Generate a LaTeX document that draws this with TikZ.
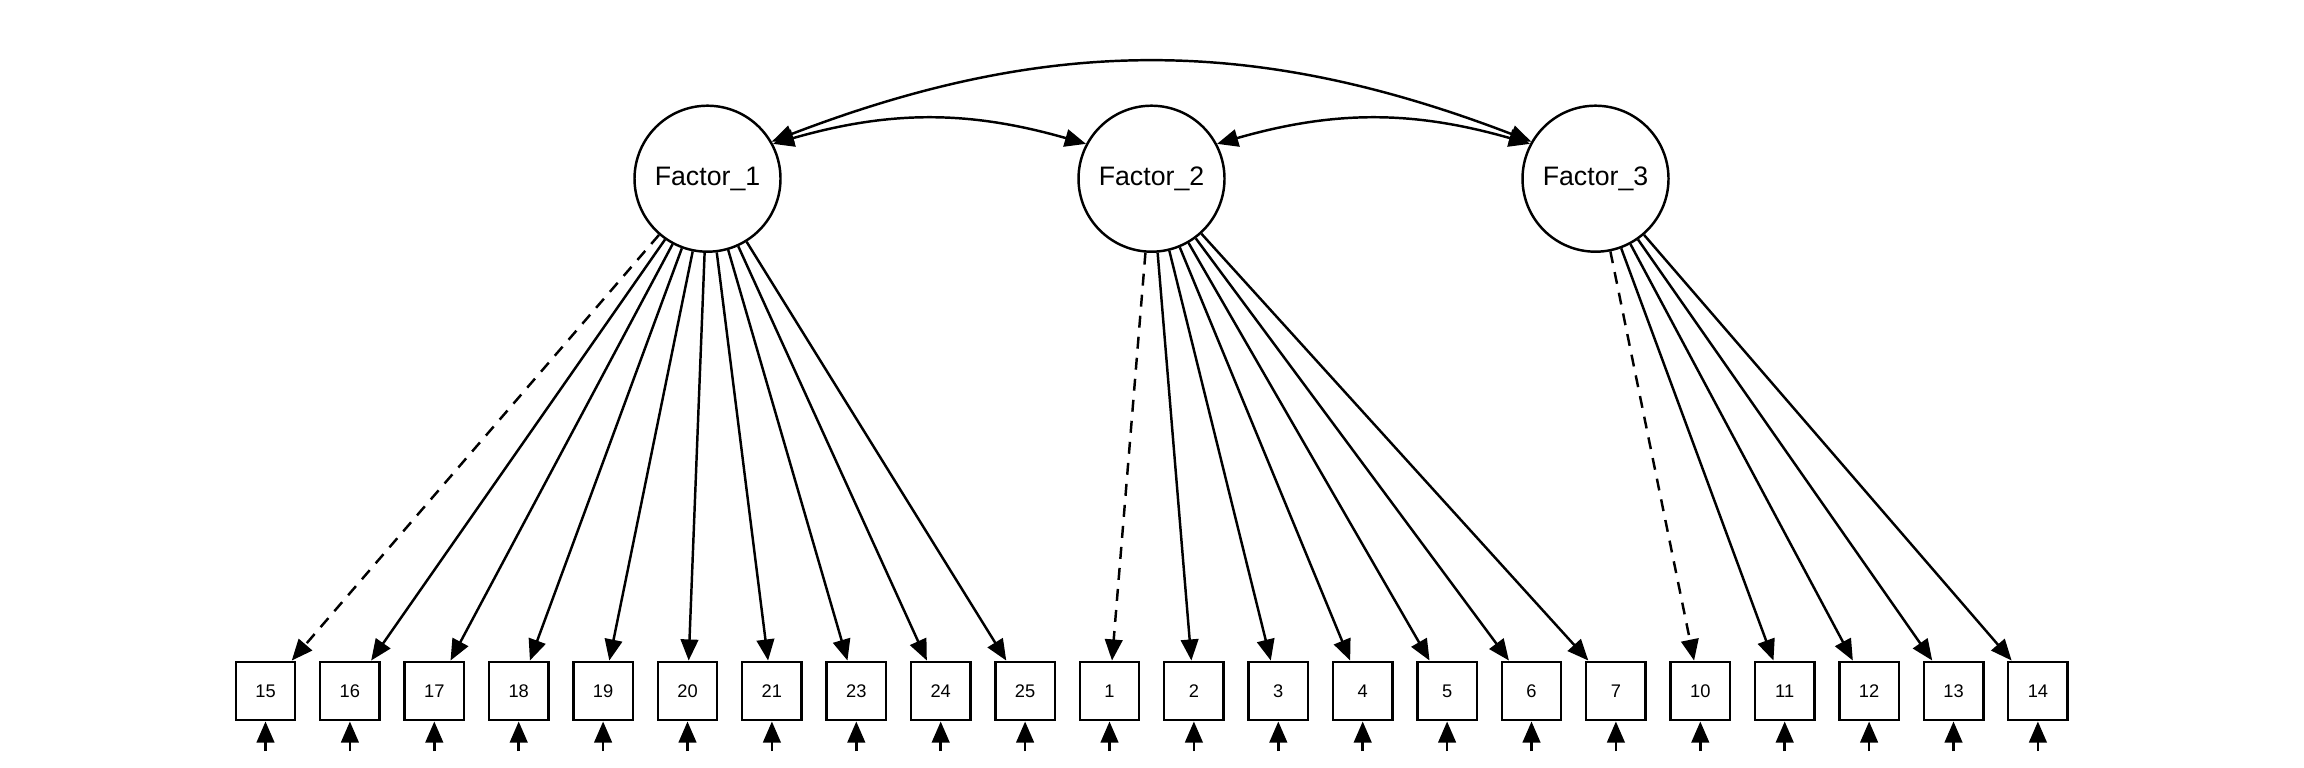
\documentclass[tikz,border=0pt]{standalone}
\usepackage{fontspec}
\setmainfont{Liberation Sans}
\usetikzlibrary{arrows.meta}
\begin{document}
\begin{tikzpicture}[node distance=0.844cm]
\tikzstyle{factor} = [circle, minimum size=1.46cm, inner sep=0pt, draw=black, line width=0.7pt, font=\fontsize{7.6}{9}\selectfont]
\tikzstyle{item} = [rectangle, minimum width=0.595cm, minimum height=0.585cm, inner sep=0pt, text centered, draw=black, line width=0.7pt, font=\fontsize{5.2}{6}\selectfont]
\tikzstyle{arrow} = [line width=0.7pt, -{Triangle[length=6pt,width=5pt]}]
\tikzstyle{fixed} = [arrow, dash pattern=on 3.4pt off 2.6pt]
\tikzstyle{corr} = [line width=0.7pt, {Triangle[length=6pt,width=5pt]}-{Triangle[length=6pt,width=5pt]}]
\useasboundingbox (0,0) rectangle (23.04,-7.68);
%
\node (f1) [factor] at (7.075,-1.787) {Factor\_1};
\node (f2) [factor] at (11.515,-1.787) {Factor\_2};
\node (f3) [factor] at (15.955,-1.787) {Factor\_3};
%
\node (v15) [item] at (2.655,-6.91) {15};
\node (v16) [item, right of=v15] {16};
\node (v17) [item, right of=v16] {17};
\node (v18) [item, right of=v17] {18};
\node (v19) [item, right of=v18] {19};
\node (v20) [item, right of=v19] {20};
\node (v21) [item, right of=v20] {21};
\node (v23) [item, right of=v21] {23};
\node (v24) [item, right of=v23] {24};
\node (v25) [item, right of=v24] {25};
\node (v1) [item, right of=v25] {1};
\node (v2) [item, right of=v1] {2};
\node (v3) [item, right of=v2] {3};
\node (v4) [item, right of=v3] {4};
\node (v5) [item, right of=v4] {5};
\node (v6) [item, right of=v5] {6};
\node (v7) [item, right of=v6] {7};
\node (v10) [item, right of=v7] {10};
\node (v11) [item, right of=v10] {11};
\node (v12) [item, right of=v11] {12};
\node (v13) [item, right of=v12] {13};
\node (v14) [item, right of=v13] {14};
%
\draw [corr] (f1.28) to [bend left=16] (f2.152);
\draw [corr] (f2.28) to [bend left=16] (f3.152);
\draw [corr] (f1.30) to [bend left=21] (f3.150);
%
\draw [fixed] (f1) -- (v15);
\draw [arrow] (f1) -- (v16);
\draw [arrow] (f1) -- (v17);
\draw [arrow] (f1) -- (v18);
\draw [arrow] (f1) -- (v19);
\draw [arrow] (f1) -- (v20);
\draw [arrow] (f1) -- (v21);
\draw [arrow] (f1) -- (v23);
\draw [arrow] (f1) -- (v24);
\draw [arrow] (f1) -- (v25);
\draw [fixed] (f2) -- (v1);
\draw [arrow] (f2) -- (v2);
\draw [arrow] (f2) -- (v3);
\draw [arrow] (f2) -- (v4);
\draw [arrow] (f2) -- (v5);
\draw [arrow] (f2) -- (v6);
\draw [arrow] (f2) -- (v7);
\draw [fixed] (f3) -- (v10);
\draw [arrow] (f3) -- (v11);
\draw [arrow] (f3) -- (v12);
\draw [arrow] (f3) -- (v13);
\draw [arrow] (f3) -- (v14);
%
\begin{scope}[node distance=0.6cm]
\coordinate [below of=v15] (e15);
\coordinate [below of=v16] (e16);
\coordinate [below of=v17] (e17);
\coordinate [below of=v18] (e18);
\coordinate [below of=v19] (e19);
\coordinate [below of=v20] (e20);
\coordinate [below of=v21] (e21);
\coordinate [below of=v23] (e23);
\coordinate [below of=v24] (e24);
\coordinate [below of=v25] (e25);
\coordinate [below of=v1] (e1);
\coordinate [below of=v2] (e2);
\coordinate [below of=v3] (e3);
\coordinate [below of=v4] (e4);
\coordinate [below of=v5] (e5);
\coordinate [below of=v6] (e6);
\coordinate [below of=v7] (e7);
\coordinate [below of=v10] (e10);
\coordinate [below of=v11] (e11);
\coordinate [below of=v12] (e12);
\coordinate [below of=v13] (e13);
\coordinate [below of=v14] (e14);
\end{scope}
%
\draw [arrow] (e15) -- (v15);
\draw [arrow] (e16) -- (v16);
\draw [arrow] (e17) -- (v17);
\draw [arrow] (e18) -- (v18);
\draw [arrow] (e19) -- (v19);
\draw [arrow] (e20) -- (v20);
\draw [arrow] (e21) -- (v21);
\draw [arrow] (e23) -- (v23);
\draw [arrow] (e24) -- (v24);
\draw [arrow] (e25) -- (v25);
\draw [arrow] (e1) -- (v1);
\draw [arrow] (e2) -- (v2);
\draw [arrow] (e3) -- (v3);
\draw [arrow] (e4) -- (v4);
\draw [arrow] (e5) -- (v5);
\draw [arrow] (e6) -- (v6);
\draw [arrow] (e7) -- (v7);
\draw [arrow] (e10) -- (v10);
\draw [arrow] (e11) -- (v11);
\draw [arrow] (e12) -- (v12);
\draw [arrow] (e13) -- (v13);
\draw [arrow] (e14) -- (v14);
\end{tikzpicture}
\end{document}
